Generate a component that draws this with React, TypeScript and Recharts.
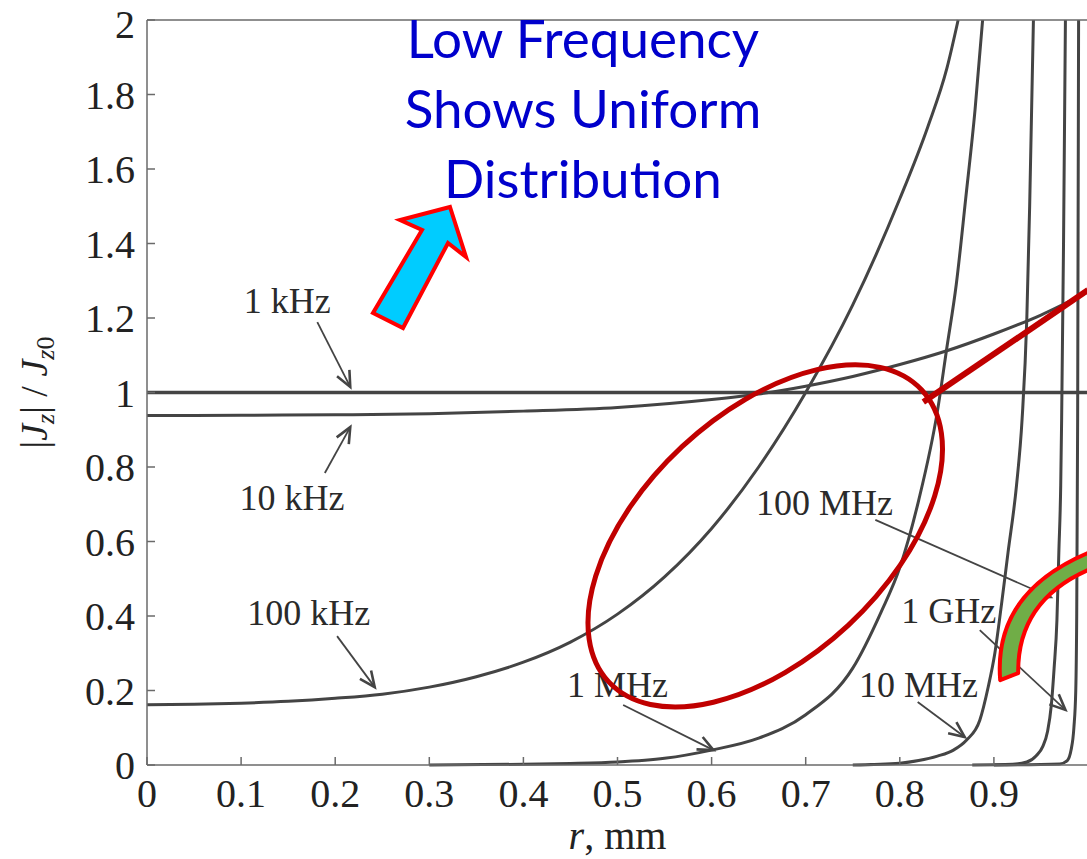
import React from "react"
import { LineChart, Line, XAxis, YAxis, ReferenceLine, ReferenceDot, Label } from "recharts"

// radius r (mm) and normalised current density |Jz|/Jz0
const r1kHz = [0, 0.25, 0.5, 0.75, 1]
const j1kHz = [1, 1, 1, 1, 1]

const r10kHz = [0, 0.1, 0.2, 0.3, 0.4, 0.5, 0.6, 0.65, 0.7, 0.75, 0.8, 0.85, 0.9, 0.95, 1]
const j10kHz = [0.938, 0.939, 0.94, 0.943, 0.95, 0.96, 0.981, 0.996, 1.017, 1.043, 1.075, 1.112, 1.157, 1.208, 1.27]

const r100kHz = [0, 0.05, 0.1, 0.15, 0.2, 0.25, 0.3, 0.35, 0.4, 0.45, 0.5, 0.55, 0.6, 0.65, 0.7, 0.75, 0.8, 0.83, 0.85, 0.862]
const j100kHz = [0.162, 0.163, 0.166, 0.171, 0.179, 0.19, 0.209, 0.237, 0.276, 0.33, 0.405, 0.505, 0.635, 0.8, 1.0, 1.235, 1.52, 1.715, 1.87, 2.0]

const r1MHz = [0.3, 0.4, 0.45, 0.5, 0.55, 0.6, 0.65, 0.7, 0.75, 0.78, 0.8, 0.82, 0.84, 0.85, 0.86, 0.87, 0.88, 0.888]
const j1MHz = [0, 0.002, 0.004, 0.008, 0.018, 0.04, 0.072, 0.135, 0.26, 0.41, 0.53, 0.71, 0.95, 1.12, 1.29, 1.52, 1.76, 2.0]

const r10MHz = [0.75, 0.8, 0.82, 0.84, 0.857, 0.871, 0.885, 0.894, 0.901, 0.908, 0.915, 0.924, 0.93, 0.935, 0.938, 0.942]
const j10MHz = [0, 0.005, 0.012, 0.024, 0.04, 0.067, 0.12, 0.21, 0.3, 0.43, 0.57, 0.75, 0.93, 1.2, 1.5, 2.0]

const r100MHz = [0.877, 0.92, 0.935, 0.945, 0.952, 0.957, 0.961, 0.964, 0.967, 0.969, 0.971, 0.972, 0.974, 0.976]
const j100MHz = [0, 0.002, 0.008, 0.025, 0.05, 0.09, 0.16, 0.26, 0.39, 0.57, 0.75, 0.93, 1.4, 2.0]

const r1GHz = [0.9, 0.97, 0.978, 0.982, 0.985, 0.987, 0.988, 0.989, 0.99]
const j1GHz = [0, 0.003, 0.012, 0.04, 0.1, 0.2, 0.4, 0.93, 2.0]

const xTicks = [0, 0.1, 0.2, 0.3, 0.4, 0.5, 0.6, 0.7, 0.8, 0.9]
const yTicks = [0, 0.2, 0.4, 0.6, 0.8, 1, 1.2, 1.4, 1.6, 1.8, 2]

// curve labels: text anchor and arrow (from -> tip), in data units
const labelText = ["1 kHz", "10 kHz", "100 kHz", "1 MHz", "10 MHz", "100 MHz", "1 GHz"]
const labelAt = [[0.149, 1.213], [0.154, 0.685], [0.172, 0.377], [0.5, 0.183], [0.82, 0.183], [0.72, 0.671], [0.852, 0.381]]
const arrowFrom = [[0.181, 1.189], [0.189, 0.784], [0.202, 0.346], [0.506, 0.161], [0.819, 0.169], [0.774, 0.658], [0.885, 0.362]]
const arrowTo = [[0.216, 1.015], [0.216, 0.907], [0.242, 0.209], [0.602, 0.04], [0.869, 0.075], [0.96, 0.451], [0.976, 0.148]]

const noteLines = ["Low Frequency", "Shows Uniform", "Distribution"]

const toRows = (rs: number[], js: number[]) => rs.map((r, i) => ({ r, j: js[i] }))

const series = [
    { name: "1 kHz", data: toRows(r1kHz, j1kHz), w: 3.5 },
    { name: "10 kHz", data: toRows(r10kHz, j10kHz), w: 3 },
    { name: "100 kHz", data: toRows(r100kHz, j100kHz), w: 3 },
    { name: "1 MHz", data: toRows(r1MHz, j1MHz), w: 3 },
    { name: "10 MHz", data: toRows(r10MHz, j10MHz), w: 3 },
    { name: "100 MHz", data: toRows(r100MHz, j100MHz), w: 3 },
    { name: "1 GHz", data: toRows(r1GHz, j1GHz), w: 3 },
]

const SERIF = '"Liberation Serif", "DejaVu Serif", "Times New Roman", serif'
const AXIS = "#6a6a6a"
const CURVE = "#444444"

function Arrow(props: any) {
    const { x1, y1, x2, y2 } = props
    const a = Math.atan2(y2 - y1, x2 - x1)
    const L = 17
    const s = 0.42
    const p1 = `${x2 - L * Math.cos(a - s)},${y2 - L * Math.sin(a - s)}`
    const p2 = `${x2 - L * Math.cos(a + s)},${y2 - L * Math.sin(a + s)}`
    return (
        <g>
            <line x1={x1} y1={y1} x2={x2} y2={y2} stroke="#444" strokeWidth={1.8} />
            <polyline points={`${p1} ${x2},${y2} ${p2}`} fill="none" stroke="#444" strokeWidth={2.6} />
        </g>
    )
}

export default function App() {
    return (
        <div style={{ position: "absolute", left: 0, top: 0, width: 1087, height: 859, overflow: "hidden", background: "#fff" }}>
            <LineChart width={1096} height={859} margin={{ top: 19, right: 7, bottom: 0, left: 0 }}>
                <XAxis
                    type="number"
                    dataKey="r"
                    domain={[0, 1]}
                    ticks={xTicks}
                    height={94}
                    tickSize={-8}
                    tickMargin={22}
                    stroke={AXIS}
                    strokeWidth={1.5}
                    tick={{ fill: "#222", fontSize: 40, fontFamily: SERIF }}
                    label={
                        <Label
                            content={(p: any) => {
                                const vb = p.viewBox
                                return (
                                    <text x={vb.x + vb.width / 2} y={vb.y + 84} textAnchor="middle" fontFamily={SERIF} fontSize={40} fill="#222">
                                        <tspan fontStyle="italic">r</tspan>, mm
                                    </text>
                                )
                            }}
                        />
                    }
                />
                <XAxis
                    xAxisId="top"
                    orientation="top"
                    type="number"
                    domain={[0, 1]}
                    ticks={xTicks}
                    height={1}
                    tickSize={-8}
                    tick={false}
                    stroke={AXIS}
                    strokeWidth={1.5}
                />
                <YAxis
                    type="number"
                    domain={[0, 2]}
                    ticks={yTicks}
                    width={147}
                    tickSize={-8}
                    tickMargin={20}
                    stroke={AXIS}
                    strokeWidth={1.5}
                    tick={{ fill: "#222", fontSize: 40, fontFamily: SERIF }}
                    label={
                        <Label
                            content={(p: any) => {
                                const vb = p.viewBox
                                const cx = 47
                                const cy = vb.y + vb.height / 2
                                return (
                                    <text x={cx} y={cy} textAnchor="middle" transform={`rotate(-90 ${cx} ${cy})`} fontFamily={SERIF} fontSize={38} fill="#222">
                                        |<tspan fontStyle="italic">J</tspan>
                                        <tspan fontStyle="italic" fontSize={26} dy={7}>z</tspan>
                                        <tspan dy={-7}>| / </tspan>
                                        <tspan fontStyle="italic">J</tspan>
                                        <tspan fontSize={26} dy={7}><tspan fontStyle="italic">z</tspan>0</tspan>
                                    </text>
                                )
                            }}
                        />
                    }
                />
                <YAxis
                    yAxisId="right"
                    orientation="right"
                    type="number"
                    domain={[0, 2]}
                    ticks={yTicks}
                    width={1}
                    tickSize={-8}
                    tick={false}
                    stroke={AXIS}
                    strokeWidth={1.5}
                />
                {series.map((s) => (
                    <Line
                        key={s.name}
                        name={s.name}
                        data={s.data}
                        dataKey="j"
                        type="monotone"
                        stroke={CURVE}
                        strokeWidth={s.w}
                        dot={false}
                        isAnimationActive={false}
                    />
                ))}
                {labelText.map((t, i) => (
                    <ReferenceLine
                        key={"a" + t}
                        segment={[
                            { x: arrowFrom[i][0], y: arrowFrom[i][1] },
                            { x: arrowTo[i][0], y: arrowTo[i][1] },
                        ]}
                        ifOverflow="visible"
                        shape={Arrow}
                    />
                ))}
                {labelText.map((t, i) => (
                    <ReferenceDot
                        key={"t" + t}
                        x={labelAt[i][0]}
                        y={labelAt[i][1]}
                        r={1}
                        shape={(p: any) => (
                            <text x={p.cx} y={p.cy} textAnchor="middle" fontFamily={SERIF} fontSize={36} fill="#2a2a2a">
                                {t}
                            </text>
                        )}
                    />
                ))}
                {/* red ellipse around the 1 MHz / 100 kHz region */}
                <ReferenceDot
                    x={0.657}
                    y={0.615}
                    r={1}
                    shape={(p: any) => (
                        <ellipse cx={p.cx} cy={p.cy} rx={214} ry={122} transform={`rotate(-43 ${p.cx} ${p.cy})`} fill="none" stroke="#C00000" strokeWidth={5} />
                    )}
                />
                <ReferenceLine
                    segment={[{ x: 0.825, y: 0.9745 }, { x: 1, y: 1.275 }]}
                    ifOverflow="visible"
                    stroke="#C00000"
                    strokeWidth={6}
                />
                {/* green crescent callout, bottom right */}
                <ReferenceDot
                    x={0.912}
                    y={0.228}
                    r={1}
                    shape={(p: any) => {
                        const x = p.cx
                        const y = p.cy
                        const d = `M ${x - 5} ${y} Q ${x - 12} ${y - 88} ${x + 85} ${y - 128} L ${x + 85} ${y - 111} Q ${x + 12} ${y - 80} ${x + 13} ${y - 7} Z`
                        return <path d={d} fill="#70AD47" stroke="#FF0000" strokeWidth={4} strokeLinejoin="round" />
                    }}
                />
                {/* block arrow, tip anchored */}
                <ReferenceDot
                    x={0.322}
                    y={1.498}
                    r={1}
                    shape={(p: any) => {
                        const x = p.cx
                        const y = p.cy
                        const pts = [
                            [0, 0], [16, 50], [-2, 36], [-47, 121], [-77, 106], [-28, 23], [-50, 13],
                        ]
                            .map(([dx, dy]) => `${x + dx},${y + dy}`)
                            .join(" ")
                        return <polygon points={pts} fill="#00CCFF" stroke="#FF0000" strokeWidth={4} strokeLinejoin="miter" />
                    }}
                />
                <ReferenceDot
                    x={0.4633}
                    y={1.898}
                    r={1}
                    shape={(p: any) => (
                        <text x={p.cx} y={p.cy} textAnchor="middle" fontFamily='Lato, "Open Sans", sans-serif' fontSize={53} fill="#0000CC">
                            {noteLines.map((l, i) => (
                                <tspan key={l} x={p.cx} dy={i === 0 ? 0 : 70}>
                                    {l}
                                </tspan>
                            ))}
                        </text>
                    )}
                />
            </LineChart>
        </div>
    )
}
